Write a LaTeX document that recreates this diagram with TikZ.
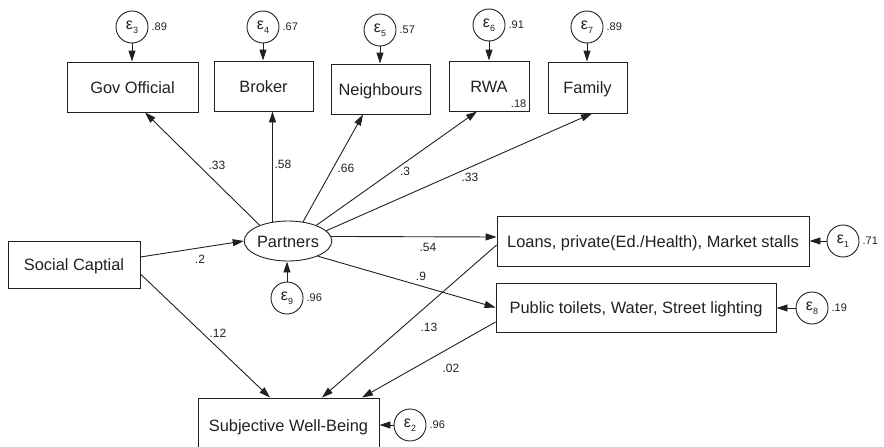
\documentclass[tikz,border=0pt]{standalone}
\usepackage{fontspec}
\setmainfont{Liberation Sans}
\usetikzlibrary{arrows.meta,calc,shapes.geometric}
\definecolor{ink}{RGB}{35,31,32}
\newcommand{\epsl}[1]{{\fontsize{16}{16}\selectfont ε\raisebox{-3.5pt}{\fontsize{9}{9}\selectfont #1}}}
\begin{document}
\begin{tikzpicture}[x=1pt,y=-1pt,
  box/.style={draw=ink, text=ink, line width=0.9pt, inner sep=0pt, text height=12pt, text depth=0pt, font=\fontsize{16.4}{18}\selectfont},
  err/.style={draw=ink, text=ink, circle, minimum size=32pt, inner sep=0pt, line width=0.9pt},
  lat/.style={draw=ink, text=ink, ellipse, minimum width=80pt, minimum height=40pt, inner sep=0pt, line width=0.9pt, text height=12pt, text depth=0pt, font=\fontsize{16.4}{18}\selectfont},
  arr/.style={draw=ink, line width=0.9pt, -{Triangle[length=11pt,width=7pt]}},
  coef/.style={text=ink, font=\fontsize{12}{12}\selectfont, inner sep=0pt},
  resid/.style={text=ink, font=\fontsize{11}{11}\selectfont, inner sep=0pt, anchor=west}
]
\useasboundingbox (0,0) rectangle (884,447);
\clip (0,0) rectangle (884,447);

% observed boxes
\node[box, minimum width=131pt, minimum height=50pt] (gov) at (132.5,87) {Gov Official};
\node[box, minimum width=99pt, minimum height=50pt] (broker) at (263.5,86) {Broker};
\node[box, minimum width=99pt, minimum height=50pt] (neigh) at (380.5,89) {Neighbours};
\node[box, minimum width=80pt, minimum height=50pt] (rwa) at (489,86) {RWA};
\node[box, minimum width=79pt, minimum height=51pt] (family) at (587.5,87.5) {Family};
\node[box, minimum width=132pt, minimum height=47pt] (social) at (74,264.5) {Social Captial};
\node[box, minimum width=312pt, minimum height=50pt] (loans) at (653,241) {Loans, private(Ed./Health), Market stalls};
\node[box, minimum width=280pt, minimum height=49pt] (public) at (636,307.5) {Public toilets, Water, Street lighting};
\node[box, minimum width=181pt, minimum height=54pt] (swb) at (288.5,425) {Subjective Well-Being};

% latent
\node[lat] (partners) at (288,241) {Partners};

% error terms
\node[err] (e3) at (132,27) {\epsl{3}};
\node[err] (e4) at (263,27) {\epsl{4}};
\node[err] (e5) at (380,30) {\epsl{5}};
\node[err] (e6) at (489,25) {\epsl{6}};
\node[err] (e7) at (587,27) {\epsl{7}};
\node[err] (e1) at (843,241) {\epsl{1}};
\node[err] (e8) at (812,308) {\epsl{8}};
\node[err] (e9) at (287,298) {\epsl{9}};
\node[err] (e2) at (410,425) {\epsl{2}};

% residual variances
\node[resid] (r3) at ($(e3.east)+(3,0)$) {.89};
\node[resid] (r4) at ($(e4.east)+(3,0)$) {.67};
\node[resid] (r5) at ($(e5.east)+(3,0)$) {.57};
\node[resid] (r6) at ($(e6.east)+(3,0)$) {.91};
\node[resid] (r7) at ($(e7.east)+(3,0)$) {.89};
\node[resid] (r1) at ($(e1.east)+(3,0)$) {.71};
\node[resid] (r8) at ($(e8.east)+(3,0)$) {.19};
\node[resid] (r9) at ($(e9.east)+(3,0)$) {.96};
\node[resid] (r2) at ($(e2.east)+(3,0)$) {.96};
\node[resid, anchor=south east] (r18) at ($(rwa.south east)+(-3,-4)$) {.18};

% error arrows
\draw[arr] (e3) -- (e3 |- gov.north);
\draw[arr] (e4) -- (e4 |- broker.north);
\draw[arr] (e5) -- (e5 |- neigh.north);
\draw[arr] (e6) -- (e6 |- rwa.north);
\draw[arr] (e7) -- (e7 |- family.north);
\draw[arr] (e1) -- (e1 -| loans.east);
\draw[arr] (e8) -- (e8 -| public.east);
\draw[arr] (e2) -- (e2 -| swb.east);
\draw[arr] (e9) -- (e9 |- partners.south);

% structural paths
\draw[arr] (partners.151) -- ($(gov.south)+(12.5,0)$);
\draw[arr] (partners.129) -- (partners.129 |- broker.south);
\draw[arr] (partners.52) -- ($(neigh.south)+(-17.5,0)$);
\draw[arr] (partners.29) -- ($(rwa.south)+(-12,0)$);
\draw[arr] (partners.15) -- ($(family.south)+(4.5,0)$);
\draw[arr] (partners.6) -- ($(loans.west)+(0,-4)$);
\draw[arr] (partners.-27) -- (public.west);
\draw[arr] ($(social.east)+(0,-7.5)$) -- (partners.west);
\draw[arr] ($(social.east)+(0,9.5)$) -- ($(swb.north)+(-18.5,0)$);
\draw[arr] ($(loans.west)+(0,4)$) -- ($(swb.north)+(33.5,0)$);
\draw[arr] ($(public.west)+(0,14.5)$) -- ($(swb.north)+(73.5,0)$);

% coefficients
\node[coef] (c1) at (217,165) {.33};
\node[coef] (c2) at (283,164) {.58};
\node[coef] (c3) at (346,168) {.66};
\node[coef] (c4) at (405,171) {.3};
\node[coef] (c5) at (470,177) {.33};
\node[coef] (c6) at (428,247) {.54};
\node[coef] (c7) at (421,276) {.9};
\node[coef] (c8) at (200,259) {.2};
\node[coef] (c9) at (218,333) {.12};
\node[coef] (c10) at (429,327) {.13};
\node[coef] (c11) at (451,368) {.02};
\end{tikzpicture}
\end{document}
